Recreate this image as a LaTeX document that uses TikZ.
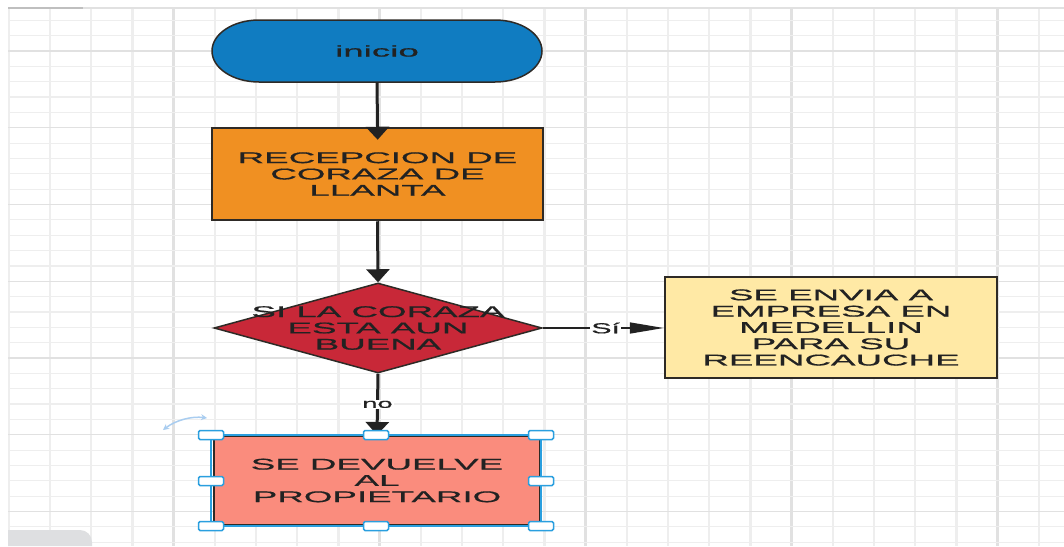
\documentclass[tikz,border=0pt]{standalone}
\usepackage{fontspec}
\setmainfont{Liberation Sans}
\newfontfamily\boxfont[FakeStretch=2.37,FakeBold=0.8]{Liberation Sans}
\newfontfamily\lblfont[FakeStretch=2.1,FakeBold=0.6]{Liberation Sans}
\usetikzlibrary{shapes.geometric,arrows.meta}
\definecolor{cinicio}{HTML}{107CC1}
\definecolor{corange}{HTML}{F09022}
\definecolor{cred}{HTML}{C82838}
\definecolor{cyellow}{HTML}{FFE9A5}
\definecolor{csalmon}{HTML}{FA8C7D}
\definecolor{textc}{HTML}{222222}
\definecolor{borderc}{HTML}{2E2A26}
\definecolor{arrc}{HTML}{222222}
\definecolor{selc}{HTML}{2A9FDF}
\definecolor{rotc}{HTML}{A9CDF0}
\definecolor{gridminor}{HTML}{EEEEEE}
\definecolor{gridmajor}{HTML}{E1E1E1}
\definecolor{panelc}{HTML}{DEDFE1}
\begin{document}
\begin{tikzpicture}[x=1pt,y=-1pt,
  boxtext/.style={font=\boxfont\fontsize{15.5}{16.3}\selectfont, text=textc, align=center},
  lbl/.style={font=\lblfont\fontsize{13}{14}\selectfont, text=textc, fill=white, inner sep=1pt},
  procbox/.style={rectangle, draw=borderc, line width=2.5, inner sep=0pt, boxtext},
  vflow/.style={draw=arrc, line width=3, -{Triangle[length=13pt,width=23pt]}},
  hflow/.style={draw=arrc, line width=1.5, -{Triangle[length=34pt,width=11pt]}},
  handle/.style={rectangle, rounded corners=1.5pt, draw=selc, fill=white, line width=1.5, minimum width=25pt, minimum height=9pt, inner sep=0pt}
]
\useasboundingbox (0,0) rectangle (1064,546);
\fill[white] (0,0) rectangle (1064,546);
% grid
\foreach \k in {0,...,25}{
  \pgfmathsetmacro{\gx}{8.8+41.2*\k}
  \pgfmathtruncatemacro{\m}{mod(\k,5)}
  \ifnum\m=4
    \draw[gridmajor, line width=3] (\gx,8) -- (\gx,546);
  \else
    \draw[gridminor, line width=2.5] (\gx,8) -- (\gx,546);
  \fi
}
\foreach \k in {-2,...,32}{
  \pgfmathsetmacro{\gy}{51+15.35*\k}
  \pgfmathtruncatemacro{\m}{mod(\k+10,5)}
  \ifnum\m=0
    \draw[gridmajor, line width=1.3] (8,\gy) -- (1064,\gy);
  \else
    \draw[gridminor, line width=1.2] (8,\gy) -- (1064,\gy);
  \fi
}
\draw[gridmajor, line width=1.2] (8,8) -- (1064,8);
\draw[black!25, line width=1.2] (8,8) -- (83,8);
\fill[panelc] (8,546) -- (8,530) -- (80,530) arc[start angle=-90, end angle=0, radius=12] -- (92,546) -- cycle;

% inicio (stadium)
\filldraw[fill=cinicio, draw=borderc, line width=1.5]
  (259,20) -- (495,20) arc[start angle=-90, end angle=90, x radius=47, y radius=31]
  -- (259,82) arc[start angle=90, end angle=270, x radius=47, y radius=31] -- cycle;
\node[boxtext, minimum width=330pt, minimum height=62pt, inner sep=0pt] (ini) at (377,51) {inicio};

% reception
\node[procbox, fill=corange, minimum width=331pt, minimum height=92pt] (rec) at (377.5,174)
  {RECEPCION DE\\CORAZA DE\\LLANTA};

% decision
\node[diamond, draw=borderc, fill=cred, line width=1.5, minimum width=328pt, minimum height=90pt, inner sep=0pt] (dec) at (378,328) {};
\node[boxtext] (dectext) at (dec.center) {SI LA CORAZA\\ESTA AUN\\BUENA};

% yes box
\node[procbox, fill=cyellow, minimum width=332pt, minimum height=101pt] (yes) at (831,327.5)
  {SE ENVIA A\\EMPRESA EN\\MEDELLIN\\PARA SU\\REENCAUCHE};

% no box (selected)
\node[procbox, fill=csalmon, line width=2, minimum width=326pt, minimum height=89pt] (nob) at (377,480.5)
  {SE DEVUELVE\\AL\\PROPIETARIO};
\draw[selc, line width=1.5] (211,435) rectangle (541,526);

% connectors
\draw[vflow, shorten >=-13pt] (ini.south) -- (rec.north);
\draw[vflow] (rec.south) -- (dec.north);
\draw[vflow] (dec.south) -- node[lbl, midway] (nolbl) {no} (nob.north);
\draw[hflow] (dec.east) -- node[lbl, pos=0.52, font=\lblfont\fontsize{14.5}{15}\selectfont] (silbl) {Sí} (dec.east -| yes.west);

% selection handles
\node[handle] (h1) at (211,435) {};
\node[handle] (h2) at (376,435) {};
\node[handle] (h3) at (541,435) {};
\node[handle] (h4) at (211,481) {};
\node[handle] (h5) at (541,481) {};
\node[handle] (h6) at (211,526) {};
\node[handle] (h7) at (376,526) {};
\node[handle] (h8) at (541,526) {};

% rotation handle
\draw[rotc, line width=1.5, {Stealth[length=6pt,width=6pt]}-{Stealth[length=6pt,width=6pt]}]
  (163,430) .. controls (176,420) and (192,416) .. (207,418);
\end{tikzpicture}
\end{document}
